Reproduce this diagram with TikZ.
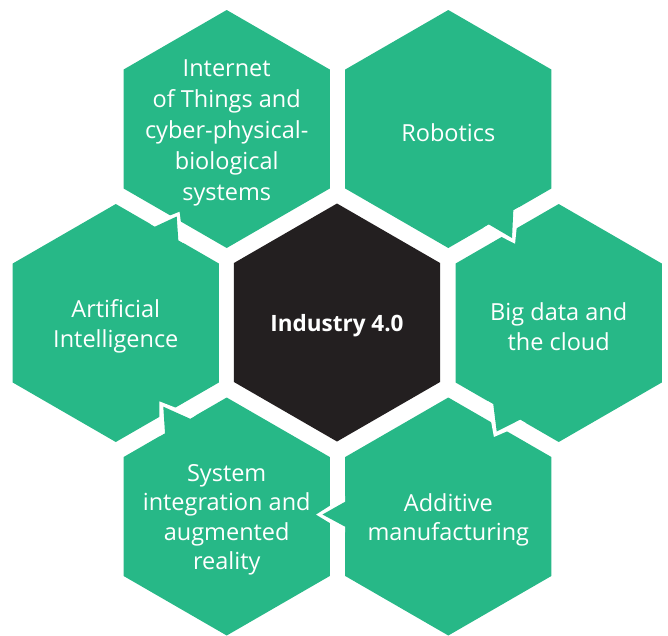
\documentclass[tikz,border=0pt]{standalone}
\usepackage{fontspec}
\setmainfont{Open Sans}
\usepackage{tikz}
\usetikzlibrary{calc}

\definecolor{hexgreen}{RGB}{39,184,135}
\definecolor{hexblack}{RGB}{35,31,32}

\tikzset{
	hexlabel/.style={inner sep=0pt, yshift=-3.5pt, text=white, align=center, font=\fontsize{23.5}{29.5}\selectfont},
}

% pointy-top hexagon round the coordinate #2, filled with #1
\newcommand{\hexagon}[2]{%
	\fill[#1] (#2) +(0,-119) -- +(103.06,-59.5) -- +(103.06,59.5) -- +(0,119)
		-- +(-103.06,59.5) -- +(-103.06,-59.5) -- cycle;
}
% pointer on the edge of one hexagon: base ends #1 and #2, tip #3, owner #4
\newcommand{\hextail}[4]{%
	\coordinate (ta) at #1;
	\coordinate (tb) at #2;
	\coordinate (tt) at #3;
	\coordinate (tm) at ($(ta)!0.5!(tb)$);
	\fill[white] ($(tm)!1.45!(ta)$) -- ($(tm)!1.28!(tt)$) -- ($(tm)!1.45!(tb)$) -- cycle;
	\fill[hexgreen] (ta) -- (tt) -- (tb) -- ($(tb)!6pt!(#4)$) -- ($(ta)!6pt!(#4)$) -- cycle;
}

\begin{document}
\begin{tikzpicture}[x=1pt, y=-1pt]
		\useasboundingbox (0,0) rectangle (668,635);
		\coordinate (corec) at (337,322.5);
		\coordinate (iotc) at (226.7,129);
		\coordinate (robotc) at (448.3,129);
		\coordinate (bigdatac) at (558.7,323);
		\coordinate (additivec) at (448.3,516.5);
		\coordinate (sysintc) at (226.7,516.5);
		\coordinate (aic) at (115.8,323);
		% hexagons
		\hexagon{hexblack}{corec}
		\foreach \c in {iotc,robotc,bigdatac,additivec,sysintc,aic}
			{\hexagon{hexgreen}{\c}}
		% pointers from one hexagon into the next
		\hextail{(489,224.5)}{(513.3,210.5)}{(512,238)}{robotc}
		\hextail{(493.3,404.3)}{(520,419.7)}{(496.7,431.5)}{bigdatac}
		\hextail{(345.2,501.7)}{(345.2,526.7)}{(322.5,514.5)}{additivec}
		\hextail{(165,433)}{(190,418.7)}{(163.3,406.7)}{sysintc}
		\hextail{(155,226.6)}{(178.3,240.1)}{(176.7,216.5)}{aic}
		% labels
		\node[hexlabel, font=\fontsize{22.5}{30}\selectfont\bfseries] (core) at (corec) {Industry 4.0};
		\node[hexlabel, font=\fontsize{23.5}{31}\selectfont] (iot) at (iotc) {Internet\\of Things and\\cyber-physical-\\biological\\systems};
		\node[hexlabel] (robot) at (robotc) {Robotics};
		\node[hexlabel] (bigdata) at (bigdatac) {Big data and\\the cloud};
		\node[hexlabel] (additive) at (additivec) {Additive\\manufacturing};
		\node[hexlabel] (sysint) at (sysintc) {System\\integration and\\augmented\\reality};
		\node[hexlabel] (ai) at (aic) {Artificial\\Intelligence};
	\end{tikzpicture}
\end{document}
